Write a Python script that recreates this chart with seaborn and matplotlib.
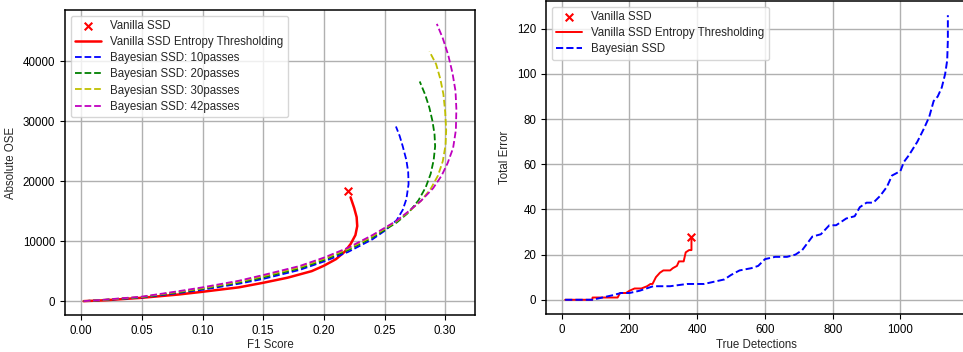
import numpy as np
import pandas as pd
import matplotlib
matplotlib.use("Agg")
import matplotlib.pyplot as plt
import seaborn as sns

# left panel: F1 score vs absolute OSE
ent_f1 = [0.002, 0.02, 0.05, 0.08, 0.10, 0.13, 0.15, 0.17, 0.19, 0.20, 0.21, 0.217,
          0.222, 0.226, 0.2275, 0.227, 0.225, 0.223, 0.222]
ent_ose = [0, 150, 560, 1100, 1560, 2300, 3060, 3900, 5000, 5900, 7000, 8200,
           9500, 11000, 12500, 14000, 15500, 16700, 17300]
van_f1 = [0.220]
van_ose = [18400]

b10_f1 = [0.002, 0.02, 0.05, 0.08, 0.10, 0.13, 0.15, 0.18, 0.20, 0.22, 0.24, 0.25,
          0.26, 0.265, 0.268, 0.2698, 0.2695, 0.268, 0.265, 0.2625, 0.2594]
b10_ose = [0, 200, 600, 1350, 1900, 2900, 3700, 5200, 6600, 8200, 10300, 11700,
           13500, 15200, 17000, 19500, 21500, 23500, 25800, 27500, 29100]

b20_f1 = [0.002, 0.02, 0.05, 0.08, 0.10, 0.13, 0.15, 0.18, 0.20, 0.22, 0.24, 0.26,
          0.27, 0.278, 0.284, 0.288, 0.2905, 0.2917, 0.2912, 0.2895, 0.287, 0.2835, 0.279]
b20_ose = [0, 220, 650, 1450, 2050, 3100, 3950, 5450, 6850, 8500, 10600, 13100,
           14800, 16800, 19000, 21200, 23500, 25800, 27800, 30000, 32200, 34400, 36600]

b30_f1 = [0.002, 0.02, 0.05, 0.08, 0.10, 0.13, 0.15, 0.18, 0.20, 0.22, 0.24, 0.26,
          0.27, 0.28, 0.288, 0.294, 0.298, 0.3003, 0.3008, 0.300, 0.2985, 0.296, 0.2925, 0.287]
b30_ose = [0, 240, 700, 1550, 2150, 3250, 4150, 5650, 7050, 8700, 10800, 13300,
           14900, 16700, 18700, 20900, 23300, 26000, 28500, 31500, 34500, 37000, 39500, 41600]

b42_f1 = [0.002, 0.02, 0.05, 0.08, 0.10, 0.13, 0.15, 0.18, 0.20, 0.22, 0.24, 0.26,
          0.27, 0.28, 0.29, 0.297, 0.302, 0.3065, 0.3088, 0.3092, 0.3085, 0.306, 0.3025, 0.298, 0.2931]
b42_ose = [0, 260, 750, 1650, 2300, 3400, 4350, 5850, 7250, 8900, 11000, 13400,
           15000, 16700, 18800, 20900, 23000, 25500, 28500, 32000, 35000, 38000, 41000, 43800, 46200]

# right panel: true detections vs total error
ent_td = [10, 90, 91, 165, 172, 190, 200, 215, 235, 252, 262, 268, 278, 290, 300,
          320, 328, 340, 346, 360, 366, 376, 383, 383]
ent_err = [0, 0, 1, 1, 3, 3, 4, 5, 5, 6, 7, 7, 10, 12, 13,
           13, 14, 15, 17, 17, 21, 22, 22, 27]
van_td = [383]
van_err = [28]

bay_td = [10, 90, 120, 150, 175, 200, 230, 250, 270, 320, 370, 420, 450, 480, 500,
          525, 560, 580, 600, 630, 665, 690, 710, 740, 765, 790, 810, 840, 865, 880,
          900, 920, 940, 960, 975, 1000, 1010, 1025, 1050, 1070, 1085, 1098, 1110,
          1122, 1132, 1138, 1140, 1140]
bay_err = [0, 0, 1, 2, 3, 3, 4, 5, 6, 6, 7, 7, 8, 9, 11,
           13, 14, 15, 18, 19, 19, 20, 22, 28, 29, 33, 33, 36, 37, 41,
           43, 43, 46, 50, 55, 57, 61, 64, 70, 76, 81, 88, 90,
           94, 100, 106, 115, 126]

sns.set_style("ticks", {"axes.grid": True, "grid.color": "#b0b0b0",
                        "axes.edgecolor": "black"})
plt.rcParams["font.family"] = ["Liberation Sans", "DejaVu Sans"]
plt.rcParams["font.size"] = 8.3
plt.rcParams["xtick.labelsize"] = 8.3
plt.rcParams["ytick.labelsize"] = 8.3
plt.rcParams["axes.labelsize"] = 8.3
plt.rcParams["xtick.color"] = "black"
plt.rcParams["ytick.color"] = "black"
plt.rcParams["axes.linewidth"] = 1.1

fig = plt.figure(figsize=(9.63, 3.52), dpi=100)
ax1 = fig.add_axes([65 / 963, 37 / 352, 410 / 963, 305 / 352])
ax2 = fig.add_axes([546 / 963, 38 / 352, 421 / 963, 313 / 352])

sns.scatterplot(x=van_f1, y=van_ose, ax=ax1, marker="x", color="red", s=30,
                linewidth=1.5, label="Vanilla SSD", zorder=5)
sns.lineplot(x=ent_f1, y=ent_ose, ax=ax1, sort=False, estimator=None, color="red",
             lw=1.8, label="Vanilla SSD Entropy Thresholding")
for f1, ose, c, n in [(b10_f1, b10_ose, "b", 10), (b20_f1, b20_ose, "g", 20),
                      (b30_f1, b30_ose, "y", 30), (b42_f1, b42_ose, "m", 42)]:
    sns.lineplot(x=f1, y=ose, ax=ax1, sort=False, estimator=None, color=c,
                 lw=1.3, linestyle="--", label=f"Bayesian SSD: {n}passes")
ax1.set_xlabel("F1 Score", labelpad=2)
ax1.set_ylabel("Absolute OSE", labelpad=4)
ax1.set_xticks(np.arange(0, 0.31, 0.05))
ax1.set_yticks([0, 10000, 20000, 30000, 40000])
ax1.legend(loc="upper left", fontsize=8.3, borderaxespad=0.5, handlelength=2.2,
           labelspacing=0.35)

sns.scatterplot(x=van_td, y=van_err, ax=ax2, marker="x", color="red", s=30,
                linewidth=1.5, label="Vanilla SSD", zorder=5)
sns.lineplot(x=ent_td, y=ent_err, ax=ax2, sort=False, estimator=None, color="red",
             lw=1.4, label="Vanilla SSD Entropy Thresholding")
sns.lineplot(x=bay_td, y=bay_err, ax=ax2, sort=False, estimator=None, color="b",
             lw=1.4, linestyle="--", label="Bayesian SSD")
ax2.set_xlabel("True Detections", labelpad=2)
ax2.set_ylabel("Total Error", labelpad=4)
ax2.set_xticks([0, 200, 400, 600, 800, 1000])
ax2.set_yticks([0, 20, 40, 60, 80, 100, 120])
ax2.legend(loc="upper left", fontsize=8.3, borderaxespad=0.5, handlelength=2.2,
           labelspacing=0.35)

for ax in (ax1, ax2):
    ax.tick_params(length=3.5, width=0.8, direction="out")
    ax.grid(True, color="#b0b0b0", lw=1.0)
    for s in ax.spines.values():
        s.set_visible(True)

fig.savefig("out.png", dpi=100)
